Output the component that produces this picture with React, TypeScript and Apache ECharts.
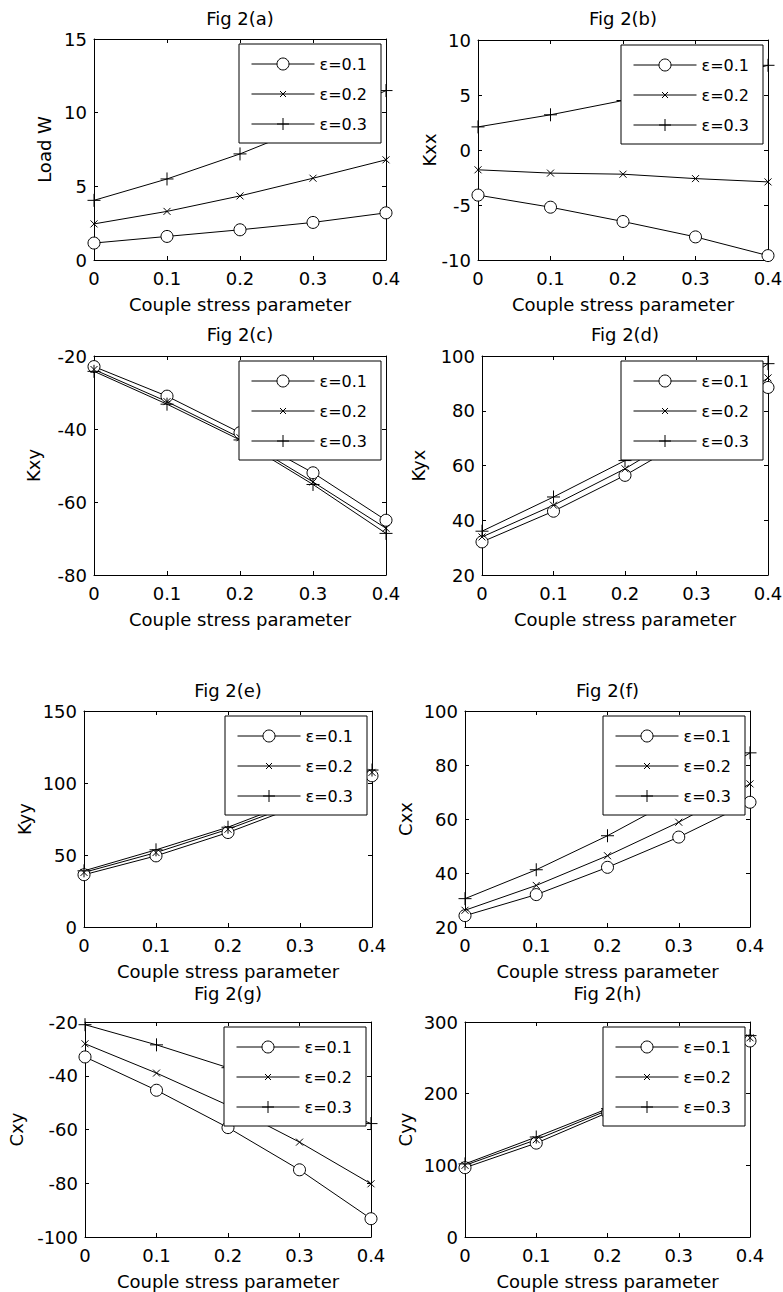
import React, { useEffect, useRef } from "react";
import * as echarts from "echarts";

// ---------- data ----------
const xValues = [0, 0.1, 0.2, 0.3, 0.4];
const seriesNames = ["ε=0.1", "ε=0.2", "ε=0.3"];
const panelTitles = ["Fig 2(a)", "Fig 2(b)", "Fig 2(c)", "Fig 2(d)", "Fig 2(e)", "Fig 2(f)", "Fig 2(g)", "Fig 2(h)"];
const yNames = ["Load W", "Kxx", "Kxy", "Kyx", "Kyy", "Cxx", "Cxy", "Cyy"];
const xName = "Couple stress parameter";
const yMins = [0, -10, -80, 20, 0, 20, -100, 0];
const yMaxs = [15, 10, -20, 100, 150, 100, -20, 300];
const yIntervals = [5, 5, 20, 20, 50, 20, 20, 100];

const loadW_e1 = [1.15, 1.6, 2.05, 2.55, 3.2];
const loadW_e2 = [2.45, 3.3, 4.35, 5.55, 6.8];
const loadW_e3 = [4.05, 5.5, 7.2, 9.2, 11.5];

const kxx_e1 = [-4.1, -5.2, -6.5, -7.9, -9.6];
const kxx_e2 = [-1.8, -2.1, -2.2, -2.6, -2.9];
const kxx_e3 = [2.1, 3.2, 4.5, 6.0, 7.7];

const kxy_e1 = [-22.9, -31, -41, -52, -65];
const kxy_e2 = [-23.7, -32.5, -42.4, -54.5, -67.2];
const kxy_e3 = [-24.2, -33.2, -43, -55.2, -68.6];

const kyx_e1 = [32.1, 43.3, 56.4, 71.5, 88.5];
const kyx_e2 = [33.9, 45.5, 58.8, 74.5, 92];
const kyx_e3 = [36, 48.5, 61.8, 78.5, 97.2];

const kyy_e1 = [36.3, 49.4, 65.6, 84.5, 105];
const kyy_e2 = [37.9, 51.7, 67.9, 86.5, 107.4];
const kyy_e3 = [39, 53.6, 69.3, 88.5, 109];

const cxx_e1 = [24.2, 32, 42.1, 53.3, 66.2];
const cxx_e2 = [26.2, 35.4, 46.4, 58.8, 73];
const cxx_e3 = [30.5, 41.2, 53.8, 68, 84.5];

const cxy_e1 = [-33, -45.4, -59.3, -75, -93.2];
const cxy_e2 = [-28.1, -39, -51, -64.7, -80.2];
const cxy_e3 = [-21, -28.5, -37, -47, -57.8];

const cyy_e1 = [96.7, 131, 173.5, 222, 273.5];
const cyy_e2 = [100, 135.8, 176.7, 225, 278];
const cyy_e3 = [102, 139.5, 179, 228, 281];

const panelData = [
  [loadW_e1, loadW_e2, loadW_e3],
  [kxx_e1, kxx_e2, kxx_e3],
  [kxy_e1, kxy_e2, kxy_e3],
  [kyx_e1, kyx_e2, kyx_e3],
  [kyy_e1, kyy_e2, kyy_e3],
  [cxx_e1, cxx_e2, cxx_e3],
  [cxy_e1, cxy_e2, cxy_e3],
  [cyy_e1, cyy_e2, cyy_e3],
];

// ---------- layout ----------
const W = 783;
const H = 1292;
const FONT = "DejaVu Sans";
const panels = [
  { left: 94, top: 39, right: 386, bottom: 260, yGap: 41, titleY: 18 },
  { left: 478, top: 40, right: 768, bottom: 260, yGap: 40, titleY: 18 },
  { left: 94, top: 356, right: 386, bottom: 575, yGap: 52, titleY: 334 },
  { left: 482, top: 356, right: 768, bottom: 575, yGap: 55, titleY: 334 },
  { left: 84, top: 711, right: 372, bottom: 927, yGap: 51, titleY: 690 },
  { left: 465, top: 711, right: 750, bottom: 927, yGap: 51, titleY: 690 },
  { left: 85, top: 1022, right: 371, bottom: 1237, yGap: 60, titleY: 993 },
  { left: 465, top: 1022, right: 750, bottom: 1237, yGap: 51, titleY: 993 },
];

const CROSS = "path://M0,0M10,10M2.5,2.5L7.5,7.5M7.5,2.5L2.5,7.5";
const PLUS = "path://M0,0M10,10M5,0L5,10M0,5L10,5";
const symbols = ["circle", CROSS, PLUS];
const symbolSizes = [12, 14, 13];

function buildOption() {
  const grid: any[] = [];
  const xAxis: any[] = [];
  const yAxis: any[] = [];
  const series: any[] = [];
  const title: any[] = [];
  const legend: any[] = [];
  const black = "#000";

  panels.forEach((p, i) => {
    grid.push({
      left: p.left,
      top: p.top,
      width: p.right - p.left,
      height: p.bottom - p.top,
      show: false,
      containLabel: false,
      outerBoundsMode: "none",
    });
    const lineCommon = { show: true, onZero: false, lineStyle: { color: black, width: 1 } };
    const tickCommon = { show: true, inside: true, length: 4, lineStyle: { color: black, width: 1 } };
    const labelCommon = { fontSize: 18, color: black, fontFamily: FONT };
    xAxis.push({
      type: "value",
      gridIndex: i,
      position: "bottom",
      min: 0,
      max: 0.4,
      interval: 0.1,
      name: xName,
      nameLocation: "middle",
      nameGap: 35,
      nameMoveOverlap: false,
      nameTextStyle: { fontSize: 18, color: black, fontFamily: FONT },
      axisLine: lineCommon,
      axisTick: tickCommon,
      axisLabel: { ...labelCommon, margin: 9 },
      splitLine: { show: false },
    });
    xAxis.push({
      type: "value",
      gridIndex: i,
      position: "top",
      min: 0,
      max: 0.4,
      interval: 0.1,
      axisLine: lineCommon,
      axisTick: tickCommon,
      axisLabel: { show: false },
      splitLine: { show: false },
    });
    yAxis.push({
      type: "value",
      gridIndex: i,
      position: "left",
      min: yMins[i],
      max: yMaxs[i],
      interval: yIntervals[i],
      name: yNames[i],
      nameLocation: "middle",
      nameRotate: 90,
      nameGap: p.yGap,
      nameMoveOverlap: false,
      nameTextStyle: { fontSize: 18, color: black, fontFamily: FONT },
      axisLine: lineCommon,
      axisTick: tickCommon,
      axisLabel: { ...labelCommon, margin: 7 },
      splitLine: { show: false },
    });
    yAxis.push({
      type: "value",
      gridIndex: i,
      position: "right",
      min: yMins[i],
      max: yMaxs[i],
      interval: yIntervals[i],
      axisLine: lineCommon,
      axisTick: tickCommon,
      axisLabel: { show: false },
      splitLine: { show: false },
    });
    panelData[i].forEach((vals, k) => {
      series.push({
        type: "line",
        name: seriesNames[k],
        xAxisIndex: 2 * i,
        yAxisIndex: 2 * i,
        data: xValues.map((x, j) => [x, vals[j]]),
        symbol: symbols[k],
        symbolSize: symbolSizes[k],
        showSymbol: true,
        showAllSymbol: true,
        silent: true,
        clip: false,
        lineStyle: { color: black, width: 1 },
        itemStyle: { color: "#fff", borderColor: black, borderWidth: 1 },
        emphasis: { disabled: true },
      });
    });
    title.push({
      text: panelTitles[i],
      left: (p.left + p.right) / 2,
      top: p.titleY,
      textAlign: "center",
      textVerticalAlign: "middle",
      padding: 0,
      textStyle: { fontSize: 18, fontWeight: "normal", color: black, fontFamily: FONT },
    });
    legend.push({
      show: true,
      data: seriesNames,
      orient: "vertical",
      right: W - p.right + 5,
      top: p.top + 5,
      backgroundColor: "#fff",
      borderColor: black,
      borderWidth: 1,
      borderRadius: 0,
      padding: [12, 14, 11, 12],
      itemGap: 14,
      itemWidth: 63,
      itemHeight: 15,
      selectedMode: false,
      itemStyle: { color: "#fff", borderColor: black, borderWidth: 1 },
      lineStyle: { color: black, width: 1 },
      textStyle: { fontSize: 16, color: black, fontFamily: FONT },
      z: 10,
    });
  });

  return {
    animation: false,
    backgroundColor: "#fff",
    textStyle: { fontFamily: FONT, color: "#000" },
    grid,
    xAxis,
    yAxis,
    series,
    title,
    legend,
    tooltip: { show: false },
  };
}

export default function App() {
  const ref = useRef<HTMLDivElement>(null);
  useEffect(() => {
    if (!ref.current) return;
    const chart = echarts.init(ref.current, undefined, { renderer: "svg" });
    chart.setOption(buildOption() as any);
    return () => {
      chart.dispose();
    };
  }, []);
  return (
    <div
      ref={ref}
      style={{ position: "absolute", left: 0, top: 0, width: W, height: H, background: "#fff" }}
    />
  );
}
